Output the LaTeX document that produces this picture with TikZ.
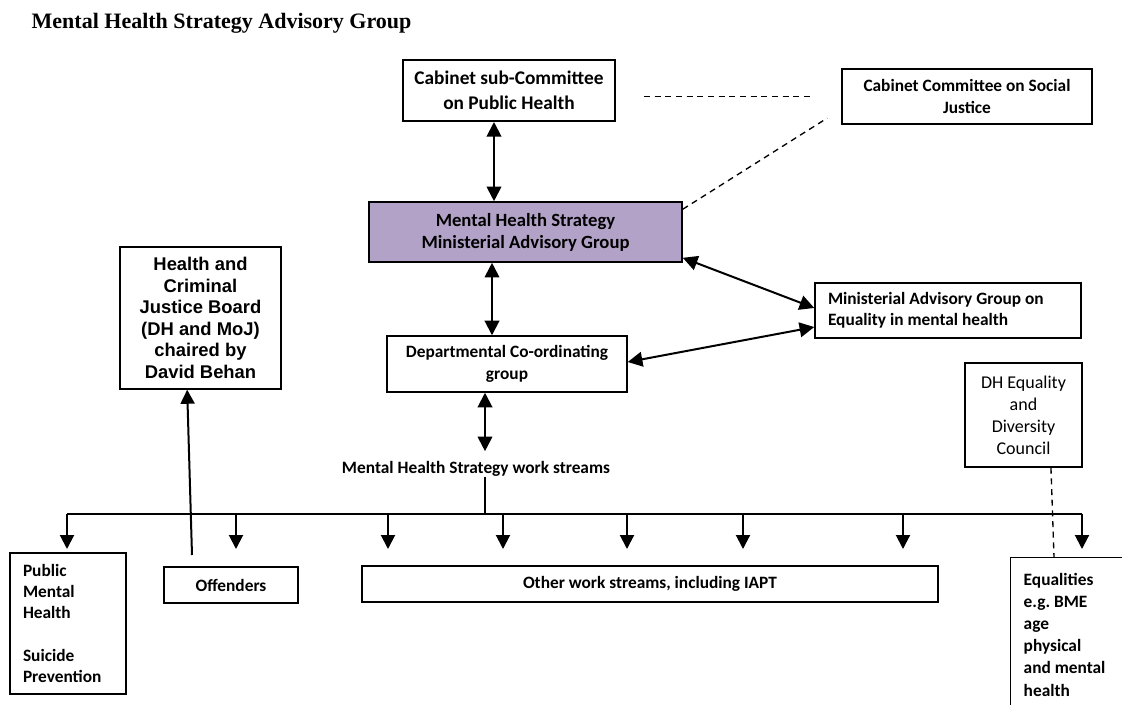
\documentclass[tikz,border=0pt]{standalone}
\usepackage{fontspec}
\setmainfont{Liberation Serif}
\newfontfamily\calibri{Carlito}
\newfontfamily\arial{Liberation Sans}
\usepackage{tikz}
\usetikzlibrary{positioning, arrows.meta, calc}
\definecolor{magpurple}{HTML}{B3A2C7}
\frenchspacing

\begin{document}
\begin{tikzpicture}[
  x=0.75pt, y=-0.75pt,
  box/.style={draw, line width=1.1pt, align=center, inner sep=0pt,
    font=\calibri\bfseries\fontsize{13pt}{16.5pt}\selectfont},
  bigbox/.style={box, line width=1.5pt,
    font=\calibri\bfseries\fontsize{14.5pt}{18.5pt}\selectfont},
  listbox/.style={box, align=flush left, inner xsep=9.75pt,
    font=\calibri\bfseries\fontsize{13pt}{15.9pt}\selectfont},
  biarrow/.style={{Triangle[length=11pt,width=11pt]}-{Triangle[length=11pt,width=11pt]},
    line width=1.5pt},
  drop/.style={-{Triangle[length=10.5pt,width=10.5pt]}, line width=1.5pt},
  busline/.style={line width=1.2pt},
  dashline/.style={dashed, dash pattern=on 4.5pt off 3.5pt, line width=1pt},
]
  \useasboundingbox (0,0) rectangle (1122,704);

  \node[anchor=base west, font=\bfseries\fontsize{16.5pt}{20pt}\selectfont]
    (title) at (27,28) {Mental Health Strategy Advisory Group};

  % top row
  \node[bigbox, minimum width=159pt, minimum height=45.75pt] (cabsub) at (509,90.5)
    {Cabinet sub-Committee\\on Public Health};
  \node[box, minimum width=187.5pt, minimum height=41.25pt] (cabsoc) at (967,96.5)
    {Cabinet Committee on Social\\Justice};

  % middle
  \node[box, fill=magpurple, line width=1.2pt, minimum width=234.75pt, minimum height=45pt,
    font=\calibri\bfseries\fontsize{14pt}{16.5pt}\selectfont] (mhs) at (525.5,232)
    {Mental Health Strategy\\Ministerial Advisory Group};
  \node[box, minimum width=120.75pt, minimum height=106.5pt,
    font=\arial\bfseries\fontsize{13.8pt}{16.2pt}\selectfont] (hcjb) at (200.5,318)
    {Health and\\Criminal\\Justice Board\\(DH and MoJ)\\chaired by\\David Behan};
  \node[listbox, text width=180pt, minimum height=41.25pt] (magq) at (948,310.5)
    {Ministerial Advisory Group on\\Equality in mental health};
  \node[box, minimum width=180pt, minimum height=42pt] (dept) at (507,364)
    {Departmental Co-ordinating\\group};
  \node[box, minimum width=87.75pt, minimum height=78pt,
    font=\calibri\fontsize{13.5pt}{16.5pt}\selectfont] (dh) at (1023.5,415)
    {DH Equality\\and\\Diversity\\Council};
  \node[font=\calibri\bfseries\fontsize{13pt}{16pt}\selectfont, inner sep=0pt]
    (wsl) at (476,469) {Mental Health Strategy work streams};

  % work streams
  \node[listbox, text width=67.5pt, minimum height=105.75pt] (pmh) at (68,623.5)
    {Public\\Mental\\Health\\[15.9pt]Suicide\\Prevention};
  \node[box, minimum width=100.5pt, minimum height=27pt] (off) at (231,585) {Offenders};
  \node[box, minimum width=432pt, minimum height=27pt] (other) at (650,584)
    {Other work streams, including IAPT};
  \node[listbox, anchor=north west, text width=78pt, minimum height=115.5pt,
    font=\calibri\bfseries\fontsize{13pt}{16.6pt}\selectfont] (eq) at (1010,557)
    {Equalities\\e.g. BME\\age\\physical\\and mental\\health};

  % links
  \draw[biarrow] ([xshift=-11.25pt]cabsub.south) -- ([xshift=-11.25pt]cabsub.south |- mhs.north);
  \draw[biarrow] ([xshift=-11.25pt]dept.north) -- ([xshift=-11.25pt]dept.north |- mhs.south);
  \draw[biarrow] ([yshift=3.75pt]mhs.south east) -- ([yshift=1.9pt]magq.west);
  \draw[biarrow] ([yshift=1.5pt]dept.east) -- ([yshift=-12.4pt]magq.west);
  \draw[biarrow, shorten >=7.5pt] ([xshift=-16.5pt]dept.south) -- ([xshift=-16.5pt]dept.south |- wsl.north);
  \draw[dashline, shorten <=21pt, shorten >=20pt] (cabsub.east |- cabsoc.west) -- (cabsoc.west);
  \draw[dashline] ([yshift=-6pt]mhs.north east) -- ([xshift=-10.5pt,yshift=5pt]cabsoc.south west);
  \draw[dashline] ([xshift=20.6pt]dh.south) -- ([xshift=33pt]eq.north west);

  % bus to the work streams
  \coordinate (busL) at (67,514);
  \coordinate (busR) at (1082,514);
  \draw[busline] (busL) -- (busR);
  \draw[busline] ([xshift=6.75pt]wsl.south) -- ([xshift=6.75pt]wsl.south |- busL);
  \foreach \x [count=\i] in {67,236,388,503,627,743,903,1082}{
    \coordinate (tip\i) at (\x,549);
    \draw[drop] (tip\i |- busL) -- (tip\i);
  }
  \coordinate (hcjbfoot) at (192,555);
  \draw[drop] (hcjbfoot) -- ([xshift=-10pt]hcjb.south);
\end{tikzpicture}
\end{document}
